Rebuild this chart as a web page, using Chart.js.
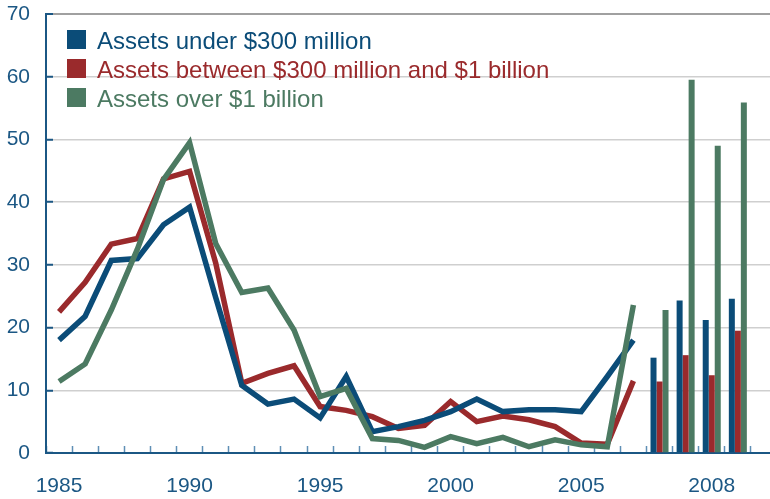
<!DOCTYPE html>
<html>
<head>
<meta charset="utf-8">
<script src="https://cdn.jsdelivr.net/npm/chart.js@4"></script>
<style>
  html, body { margin: 0; padding: 0; background: #fff; overflow: hidden; }
  #wrap { width: 777px; height: 499px; }
</style>
</head>
<body>
<div id="wrap"><canvas id="lossChart" width="777" height="499"></canvas></div>
<script>
// ============================
// DATA
// ============================
const years = ["1985", "1986", "1987", "1988", "1989", "1990", "1991", "1992", "1993", "1994",
  "1995", "1996", "1997", "1998", "1999", "2000", "2001", "2002", "2003", "2004",
  "2005", "2006", "2007"];
const quarters2008 = ["2008 Q1", "2008 Q2", "2008 Q3", "2008 Q4"];
const categories = [...years, ...quarters2008, ""];

// annual values, 1985-2007
const under300Annual = [18.0, 21.8, 30.7, 31.0, 36.4, 39.2, 24.8, 10.8, 7.8, 8.6,
  5.6, 12.2, 3.4, 4.2, 5.2, 6.6, 8.6, 6.6, 6.9, 6.9, 6.6, 12.2, 18.0];
const between300And1bAnnual = [22.5, 27.2, 33.3, 34.2, 43.7, 44.9, 30.3, 11.1, 12.7, 13.9,
  7.4, 6.8, 5.8, 3.9, 4.4, 8.2, 5.0, 5.9, 5.3, 4.2, 1.6, 1.4, 11.5];
const over1bAnnual = [11.4, 14.2, 22.8, 32.5, 43.6, 49.5, 33.4, 25.6, 26.3, 19.6,
  9.0, 10.3, 2.3, 2.0, 0.9, 2.6, 1.5, 2.5, 1.0, 2.1, 1.3, 1.0, 23.6];

// quarterly values, 2008
const under300Q = [15.2, 24.3, 21.2, 24.6];
const between300And1bQ = [11.4, 15.6, 12.4, 19.5];
const over1bQ = [22.8, 59.5, 49.0, 55.9];

const yTicks = [0, 10, 20, 30, 40, 50, 60, 70];
const xTickText = { "1985": "1985", "1990": "1990", "1995": "1995", "2000": "2000", "2005": "2005", "2008 Q3": "2008" };

const seriesNames = ["Assets under $300 million", "Assets between $300 million and $1 billion", "Assets over $1 billion"];
const seriesColors = ["#0b4c78", "#9a2a2c", "#4c7a62"];

const tickBlue = "#1b5784";
const fontFamily = "'Liberation Sans', Arial, sans-serif";

// pad annual series out to the quarterly slots and vice versa
const padAnnual = (arr) => [...arr, ...quarters2008.map(() => null), null];
const padQuarterly = (arr) => [...years.map(() => null), ...arr, null];

const lineStyle = (i) => ({
  type: "line",
  label: seriesNames[i],
  borderColor: seriesColors[i],
  backgroundColor: seriesColors[i],
  borderWidth: 5.5,
  borderJoinStyle: "miter",
  tension: 0,
  pointRadius: 0,
  spanGaps: false,
});

const barStyle = (i) => ({
  type: "bar",
  label: seriesNames[i],
  backgroundColor: seriesColors[i],
  borderWidth: 0,
  categoryPercentage: 0.69,
  barPercentage: 1.0,
});

// legend drawn inside the plot area
const insideLegend = {
  id: "insideLegend",
  afterDraw(chart) {
    const ctx = chart.ctx;
    ctx.save();
    ctx.font = "24px " + fontFamily;
    ctx.textBaseline = "alphabetic";
    ctx.textAlign = "left";
    seriesNames.forEach((name, i) => {
      const top = 30 + i * 29;
      ctx.fillStyle = seriesColors[i];
      ctx.fillRect(67, top, 19, 19);
      ctx.fillText(name, 97, top + 19);
    });
    ctx.restore();
  },
};

// tick padding would otherwise push the plot area inwards
const noScalePadding = (scale) => {
  scale.paddingTop = 0;
  scale.paddingBottom = 0;
  scale.paddingLeft = 0;
  scale.paddingRight = 0;
};

new Chart(document.getElementById("lossChart"), {
  type: "bar",
  data: {
    labels: categories,
    datasets: [
      { ...lineStyle(2), data: padAnnual(over1bAnnual) },
      { ...lineStyle(0), data: padAnnual(under300Annual) },
      { ...lineStyle(1), data: padAnnual(between300And1bAnnual) },
      { ...barStyle(0), data: padQuarterly(under300Q) },
      { ...barStyle(1), data: padQuarterly(between300And1bQ) },
      { ...barStyle(2), data: padQuarterly(over1bQ) },
    ],
  },
  options: {
    responsive: false,
    animation: false,
    layout: { padding: { top: 14, right: 0, left: 0, bottom: 0 } },
    plugins: {
      legend: { display: false },
      tooltip: { enabled: false },
    },
    scales: {
      x: {
        type: "category",
        offset: true,
        grid: {
          offset: true,
          drawOnChartArea: false,
          drawTicks: true,
          tickLength: -7,
          tickColor: "#5f8fb5",
          tickWidth: 1.5,
        },
        border: { color: tickBlue, width: 2 },
        ticks: {
          autoSkip: false,
          maxRotation: 0,
          padding: 28,
          color: tickBlue,
          font: { family: fontFamily, size: 21 },
          callback: function (value) {
            const key = this.getLabelForValue(value);
            return xTickText[key] || "";
          },
        },
        afterFit: (scale) => { scale.height = 46; noScalePadding(scale); },
      },
      y: {
        min: 0,
        max: 70,
        afterBuildTicks: (scale) => { scale.ticks = yTicks.map((v) => ({ value: v })); },
        grid: {
          color: (c) => (c.tick && c.tick.value === 70 ? "#a0a0a0" : "#cfcfcf"),
          lineWidth: (c) => (c.tick && c.tick.value === 70 ? 2 : 1.5),
          drawTicks: true,
          tickLength: -7,
          tickColor: tickBlue,
          tickWidth: 2,
        },
        border: { color: tickBlue, width: 2 },
        ticks: {
          padding: 23,
          color: tickBlue,
          font: { family: fontFamily, size: 21 },
        },
        afterFit: (scale) => { scale.width = 46; noScalePadding(scale); },
      },
    },
  },
  plugins: [insideLegend],
});
</script>
</body>
</html>
